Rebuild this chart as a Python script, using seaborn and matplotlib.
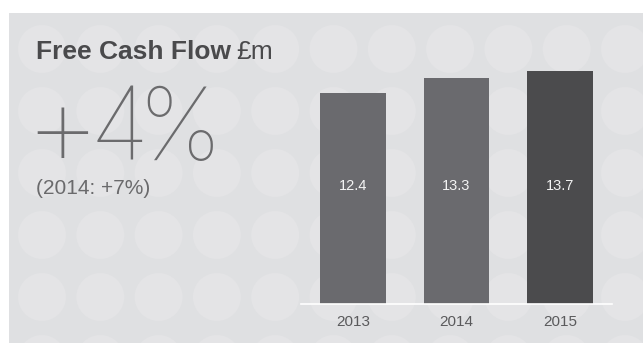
import matplotlib
matplotlib.use("Agg")
import matplotlib.pyplot as plt
from matplotlib import font_manager as fm
from matplotlib.patches import Rectangle, Circle
from matplotlib.textpath import TextPath
import pandas as pd
import seaborn as sns

# --- data -------------------------------------------------------------
years = ["2013", "2014", "2015"]
free_cash_flow = [12.4, 13.3, 13.7]
bar_colors = ["#6a6a6e", "#6a6a6e", "#4b4b4d"]
title = "Free Cash Flow"
unit = "£m"
headline = "+4%"
comparison = "(2014: +7%)"

# --- canvas -----------------------------------------------------------
W, H = 643, 343
DPI = 100
PX = DPI / 72  # pixels per point
sns.set_style("white")
plt.rcParams["font.family"] = ["Liberation Sans", "DejaVu Sans"]

fig = plt.figure(figsize=(W / DPI, H / DPI), dpi=DPI)
fig.patch.set_facecolor("white")

# background layer in pixel units (y grows downwards)
bg = fig.add_axes([0, 0, 1, 1])
bg.set_xlim(0, W)
bg.set_ylim(H, 0)
bg.axis("off")

panel = Rectangle((9, 13), W - 9, H - 13, facecolor="#dfe0e2", edgecolor="none")
bg.add_patch(panel)
for row in range(6):
    for col in range(11):
        dot = Circle((42 + 58.3 * col, 49 + 62 * row), 24,
                     facecolor="#e4e4e6", edgecolor="none")
        bg.add_patch(dot)
        dot.set_clip_path(panel)


def thinnest_font(preferred):
    """Lightest upright face among the preferred families."""
    best = None
    for rank, name in enumerate(preferred):
        for entry in fm.fontManager.ttflist:
            if entry.name != name or entry.style != "normal":
                continue
            w = entry.weight
            if not isinstance(w, (int, float)):
                w = fm.weight_dict.get(w, 400)
            key = (w, rank)
            if best is None or key < best[0]:
                best = (key, entry.fname)
    if best is None:
        return fm.FontProperties(family="DejaVu Sans", weight="light")
    return fm.FontProperties(fname=best[1])


def ink_box(ch, prop):
    """Ink extents of a glyph in pixels, relative to its origin."""
    ext = TextPath((0, 0), ch, prop=prop).get_extents()
    return ext.x0 * PX, ext.y0 * PX, ext.x1 * PX, ext.y1 * PX


# --- heading texts ----------------------------------------------------
ttl = bg.text(36, 59.3, title, fontsize=19.0, fontweight="bold",
              color="#4a4a4c", va="baseline", ha="left")
bg.annotate(unit, xy=(1, 0), xycoords=ttl, xytext=(4, 0),
            textcoords="offset points", fontsize=19.0, color="#4a4a4c",
            va="bottom", ha="left")

# large thin headline, set glyph by glyph with tight spacing
thin_face = thinnest_font(["Roboto", "Lato", "Open Sans", "Noto Sans", "Inter"])
glyph_left = [37, 97, 147]
glyph_size = [88, 72, 72]
for ch, left, size in zip(headline, glyph_left, glyph_size):
    prop = thin_face.copy()
    prop.set_size(size)
    x0, y0, x1, y1 = ink_box(ch, prop)
    if ch == "+":
        baseline = 133 + (y0 + y1) / 2  # centre the plus sign vertically
    else:
        baseline = 160
    bg.text(left - x0, baseline, ch, fontproperties=prop,
            color="#6b6b6d", va="baseline", ha="left")

bg.text(36, 194, comparison, fontsize=15, color="#6a6a6c",
        va="baseline", ha="left")

# --- bar chart --------------------------------------------------------
ax = fig.add_axes([301.25 / W, (H - 304) / H, 310.5 / W, 238 / H])
df = pd.DataFrame({"year": years, "value": free_cash_flow})
sns.barplot(data=df, x="year", y="value", hue="year", order=years,
            hue_order=years, palette=bar_colors, width=0.63, saturation=1,
            legend=False, linewidth=0, edgecolor="none", ax=ax)

ax.set_xlim(-0.5, 2.5)
ax.set_ylim(0, 14)
ax.patch.set_alpha(0)
for side in ("left", "top", "right"):
    ax.spines[side].set_visible(False)
ax.spines["bottom"].set_color("white")
ax.spines["bottom"].set_linewidth(1.2)
ax.spines["bottom"].set_zorder(5)
ax.set_yticks([])
ax.tick_params(axis="x", length=7, width=1.2, color="white",
               labelcolor="#5a5a5c", labelsize=11, pad=1)
ax.set_xlabel("")
ax.set_ylabel("")

for i, v in enumerate(free_cash_flow):
    ax.text(i, 6.95, f"{v:.1f}", ha="center", va="center",
            color="#f4f4f4", fontsize=10.5)

fig.savefig("out.png", dpi=DPI)
